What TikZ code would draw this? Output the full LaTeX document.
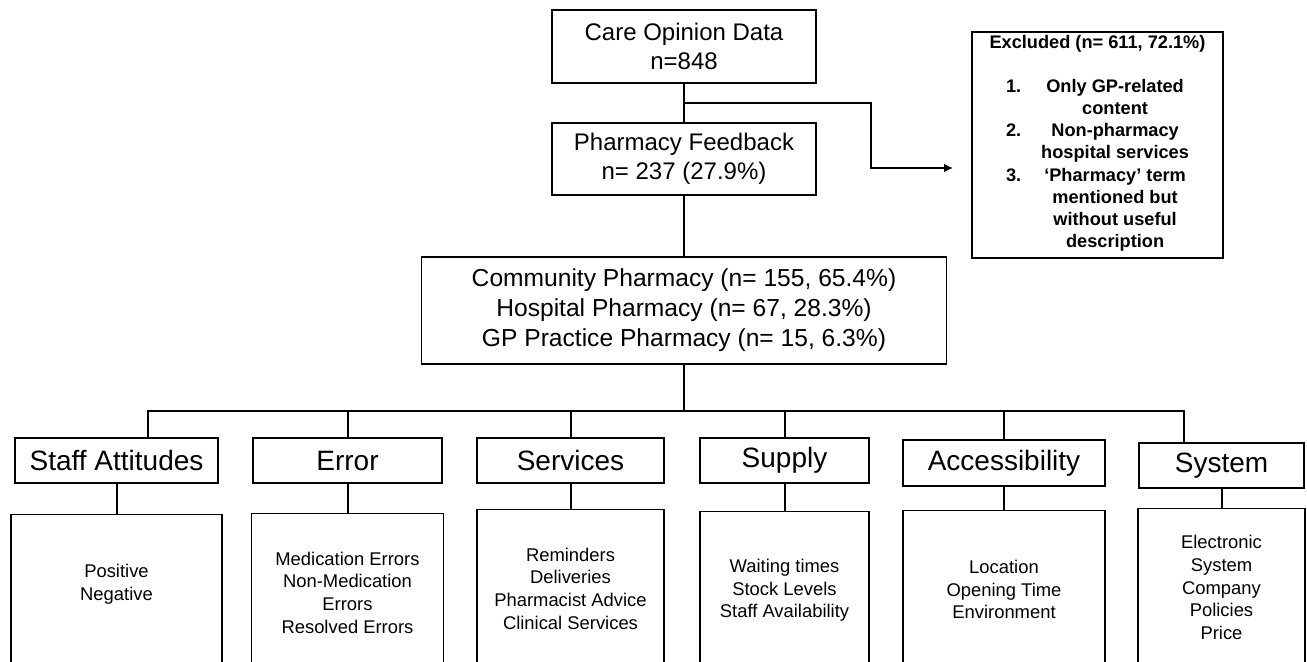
\documentclass[tikz,border=0pt]{standalone}
\usepackage{fontspec}
\setmainfont{Liberation Sans}
\usetikzlibrary{arrows.meta,positioning,calc}
\tikzset{
  flowbox/.style={draw, line width=0.8pt, align=center, inner sep=0pt},
  mainbox/.style={flowbox, font=\fontsize{12}{14.5}\selectfont},
  catbox/.style={flowbox, font=\fontsize{14}{16}\selectfont, minimum height=22.5pt},
  themebox/.style={flowbox, font=\fontsize{9.2}{11.3}\selectfont, minimum height=79pt},
  exclbox/.style={flowbox, font=\fontsize{9.1}{11.1}\selectfont\bfseries},
  flowline/.style={line width=1pt},
  flowarrow/.style={-{Latex[length=4.5pt,width=4.5pt]}, line width=1pt}
}

\begin{document}
\begin{tikzpicture}[x=0.5pt, y=-0.5pt]
    \useasboundingbox (0,0) rectangle (1307,661);
    % screening
    \node[mainbox, minimum width=132pt, minimum height=36.5pt] (care) at (684,46.5) {Care Opinion Data\\n=848};
    \node[mainbox, minimum width=132pt, minimum height=36pt] (pf) at (684,159) {Pharmacy Feedback\\n= 237 (27.9\%)};
    \node[mainbox, font=\fontsize{12.3}{15}\selectfont, minimum width=262.5pt, minimum height=53.5pt] (setting) at (684,310.5)
      {Community Pharmacy (n= 155, 65.4\%)\\Hospital Pharmacy (n= 67, 28.3\%)\\GP Practice Pharmacy (n= 15, 6.3\%)};
    \node[exclbox, minimum width=125.5pt, minimum height=113pt] (excl) at (1097.5,145)
      {Excluded (n= 611, 72.1\%)\\[11pt]
       \begin{tabular}{@{}r@{\hspace{10pt}}c@{}}
         1. & Only GP-related\\
            & content\\
         2. & Non-pharmacy\\
            & hospital services\\
         3. & ‘Pharmacy’ term\\
            & mentioned but\\
            & without useful\\
            & description
       \end{tabular}};
    % themes
    \node[catbox, minimum width=101.5pt] (staff) at (116.5,460.5) {Staff Attitudes};
    \node[catbox, minimum width=94.5pt] (error) at (347.5,460.5) {Error};
    \node[catbox, minimum width=93.5pt] (serv) at (570.5,460.5) {Services};
    \node[catbox, minimum width=84.5pt] (supply) at (784.5,460.5) {Supply};
    \node[catbox, minimum width=101pt, minimum height=23pt] (access) at (1004,463) {Accessibility};
    \node[catbox, minimum width=82.5pt] (system) at (1221.5,465.5) {System};
    % sub-themes
    \node[themebox, minimum width=105.5pt, below=15pt of staff] (staffsub) {Positive\\Negative\\\mbox{}};
    \node[themebox, minimum width=96pt, below=14.5pt of error] (errorsub) {Medication Errors\\Non-Medication\\Errors\\Resolved Errors};
    \node[themebox, minimum width=93.5pt, below=12.5pt of serv] (servsub) {Reminders\\Deliveries\\Pharmacist Advice\\Clinical Services};
    \node[themebox, minimum width=84.5pt, below=13.5pt of supply] (supplysub) {Waiting times\\Stock Levels\\Staff Availability};
    \node[themebox, minimum width=101pt, below=11.5pt of access] (accesssub) {Location\\Opening Time\\Environment};
    \node[themebox, minimum width=83.5pt, below=9.5pt of system] (systemsub) {Electronic\\System\\Company\\Policies\\Price};
    % connectors
    \coordinate (split) at ($(care.south)!0.5!(pf.north)$);
    \coordinate (tip) at (953,168);
    \coordinate (bus) at (684,411);
    \draw[flowline] (care) -- (pf);
    \draw[flowarrow] (split) -- ++(187,0) |- (tip);
    \draw[flowline] (pf) -- (setting);
    \draw[flowline] (setting) -- (bus);
    \draw[flowline] ([xshift=15.75pt]staff.north) |- (bus) -| ([xshift=-19pt]system.north);
    \draw[flowline] (error) -- (error |- bus);
    \draw[flowline] (serv) -- (serv |- bus);
    \draw[flowline] (supply) -- (supply |- bus);
    \draw[flowline] (access) -- (access |- bus);
    \draw[flowline] (staff) -- (staffsub);
    \draw[flowline] (error) -- (errorsub);
    \draw[flowline] (serv) -- (servsub);
    \draw[flowline] (supply) -- (supplysub);
    \draw[flowline] (access) -- (accesssub);
    \draw[flowline] (system) -- (systemsub);
  \end{tikzpicture}
\end{document}
